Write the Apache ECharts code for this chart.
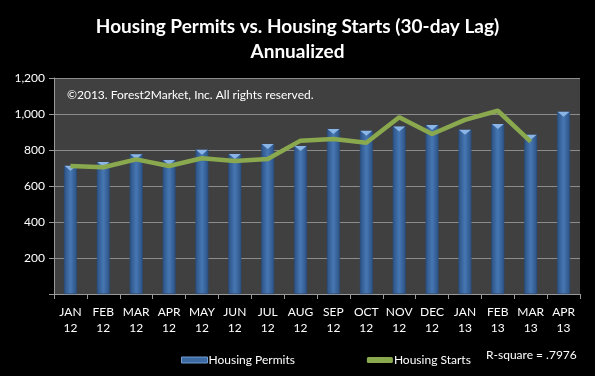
<!DOCTYPE html>
<html><head><meta charset="utf-8">
<script src="https://cdn.jsdelivr.net/npm/echarts@6/dist/echarts.min.js"></script>
<style>html,body{margin:0;padding:0;background:#000;}#c{width:595px;height:376px;}</style>
</head><body><div id="c"></div>
<script>
var categories = ['JAN\n12','FEB\n12','MAR\n12','APR\n12','MAY\n12','JUN\n12','JUL\n12','AUG\n12','SEP\n12','OCT\n12','NOV\n12','DEC\n12','JAN\n13','FEB\n13','MAR\n13','APR\n13'];
var permits = [712, 733, 776, 744, 802, 778, 833, 822, 917, 907, 930, 939, 913, 944, 885, 1013];
var starts = [711, 704, 748, 711, 754, 739, 750, 852, 861, 840, 982, 889, 967, 1018, 846, null];
var yTicks = [0, 200, 400, 600, 800, 1000, 1200];

var F = 'Lato, "Open Sans", sans-serif';
var chart = echarts.init(document.getElementById('c'));
chart.setOption({
  backgroundColor: '#000',
  animation: false,
  title: {
    text: 'Housing Permits vs. Housing Starts (30-day Lag)\nAnnualized',
    left: 'center', top: 9,
    textStyle: {color: '#fff', fontSize: 19, fontWeight: 'bold', fontFamily: F, lineHeight: 25}
  },
  legend: {
    left: 176, top: 349, itemWidth: 26, itemHeight: 6, itemGap: 72,
    textStyle: {color: '#fff', fontSize: 12, fontFamily: F, padding: [0,0,0,-4]},
    data: [
      {name: 'Housing Permits', icon: 'rect', itemStyle: {color: '#3d6aa3', borderColor: '#6f9bd4', borderWidth: 1}},
      {name: 'Housing Starts', icon: 'roundRect', itemStyle: {color: '#8aa84e'}}
    ]
  },
  grid: {left: 54, right: 15, top: 78, bottom: 82, show: true, backgroundColor: '#404040', borderWidth: 0},
  xAxis: {
    type: 'category', data: categories, boundaryGap: true,
    axisLine: {lineStyle: {color: '#999', width: 1}},
    axisTick: {show: true, length: 5, interval: 0, lineStyle: {color: '#999'}},
    axisLabel: {color: '#fff', fontSize: 12, fontFamily: F, lineHeight: 16, margin: 10, interval: 0}
  },
  yAxis: {
    type: 'value', min: yTicks[0], max: yTicks[yTicks.length-1], interval: 200,
    axisLine: {show: true, lineStyle: {color: '#999'}},
    axisTick: {show: true, length: 5, lineStyle: {color: '#999'}},
    splitLine: {lineStyle: {color: '#8c8c8c', width: 1}},
    axisLabel: {color: '#fff', fontSize: 12, fontFamily: F, margin: 9,
      formatter: function(v){ return v === 0 ? '' : v.toLocaleString('en-US'); }}
  },
  series: [
    {
      name: 'Housing Permits', type: 'bar', data: permits, barWidth: 13, z: 2,
      itemStyle: {
        color: new echarts.graphic.LinearGradient(0,0,1,0,[
          {offset:0,color:'#2c5183'},{offset:0.5,color:'#4677b3'},{offset:1,color:'#2c5183'}
        ]),
        borderColor: '#264a7a', borderWidth: 0.5
      }
    },
    {
      name: 'cap', type: 'pictorialBar', data: permits, symbol: 'triangle', symbolRotate: 180,
      symbolSize: [12, 5], symbolPosition: 'end', z: 3,
      itemStyle: {color: '#8bb5e6'}, silent: true, tooltip: {show: false}
    },
    {
      name: 'Housing Starts', type: 'line', data: starts, showSymbol: false, symbol: 'none', z: 4,
      lineStyle: {color: '#8aa84e', width: 4.5}, itemStyle: {color: '#8aa84e'}
    }
  ],
  graphic: [
    {type: 'text', left: 67, top: 89, z: 10,
      style: {text: '©2013. Forest2Market, Inc. All rights reserved.', fill: '#fff', font: '12px ' + F}},
    {type: 'text', left: 486, top: 349, z: 10,
      style: {text: 'R-square = .7976', fill: '#fff', font: '12px ' + F}}
  ]
});
</script></body></html>
